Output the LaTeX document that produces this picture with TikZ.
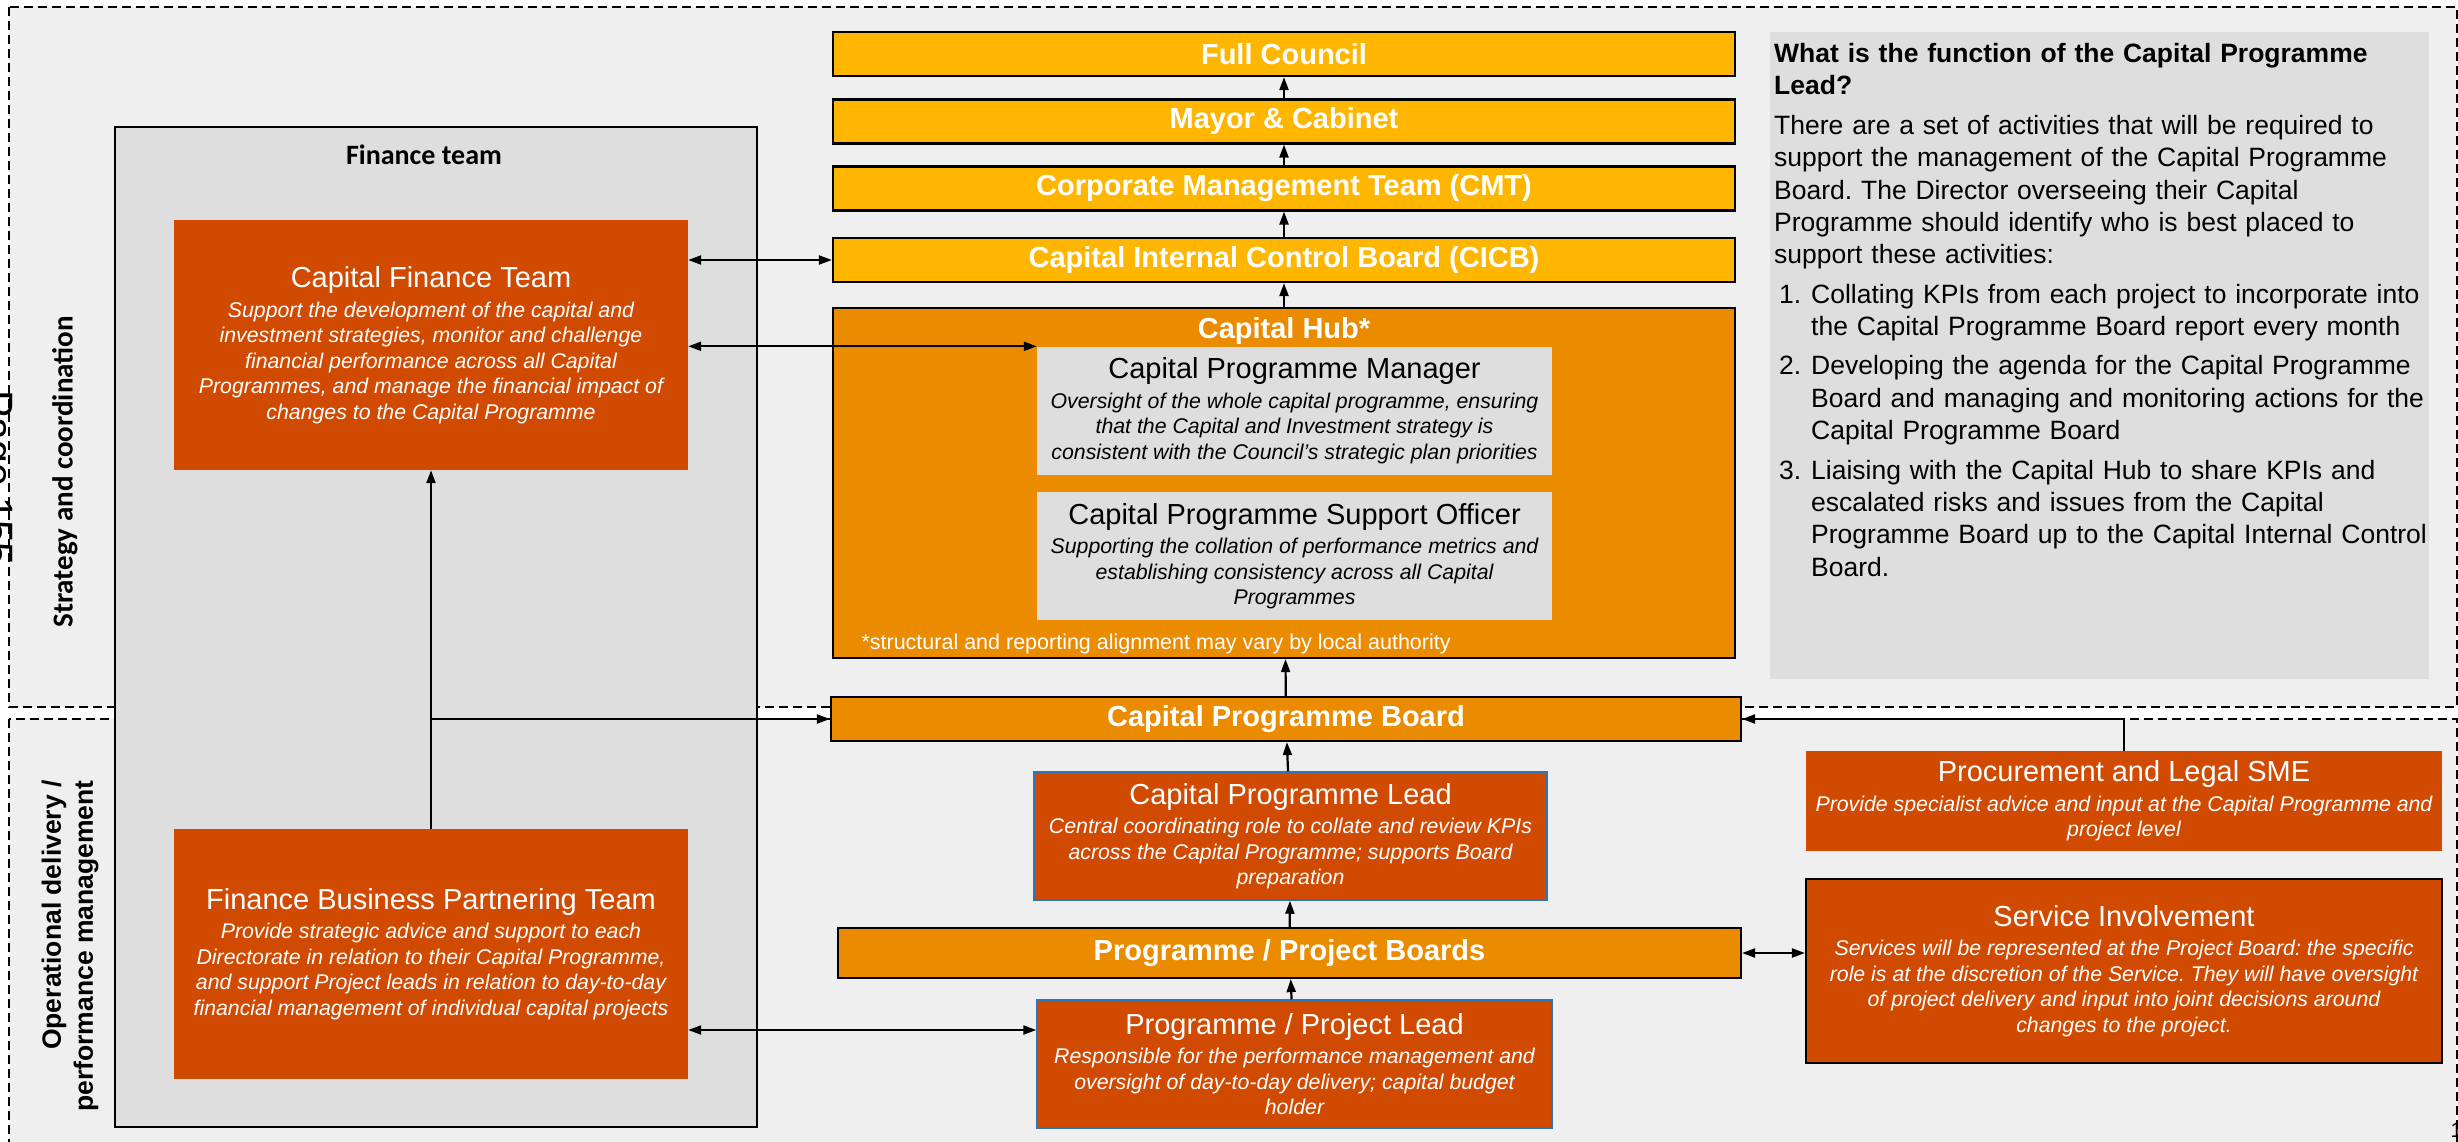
\documentclass[tikz,border=0pt]{standalone}
\usepackage{fontspec}
\setmainfont{Liberation Sans}
\newfontfamily\calfont{Carlito}
\usetikzlibrary{arrows.meta}
\frenchspacing

\definecolor{govyellow}{HTML}{FFB600}
\definecolor{huborange}{HTML}{EB8C00}
\definecolor{teamorange}{HTML}{D04A02}
\definecolor{panelgrey}{HTML}{DEDEDE}
\definecolor{zonegrey}{HTML}{EFEFEF}
\definecolor{leadblue}{HTML}{2E75B6}

\newcommand{\descfont}{\fontsize{21.3}{25.5}\selectfont\itshape}
\newcommand{\roletitle}[1]{{\fontsize{29}{32}\selectfont\upshape #1}\\[4pt]}

\begin{document}
\begin{tikzpicture}[x=1pt, y=-1pt,
  zone/.style={draw=black, line width=2.2pt, dash pattern=on 9pt off 5pt, fill=zonegrey},
  govbox/.style={draw=black, line width=2.2pt, fill=govyellow, text=white, minimum width=902pt,
    minimum height=44pt, inner sep=0pt, font=\fontsize{29}{33}\selectfont\bfseries},
  teambox/.style={fill=teamorange, text=white, align=center, inner sep=0pt, font=\descfont},
  leadbox/.style={teambox, draw=leadblue, line width=1.5pt},
  hubrole/.style={fill=panelgrey, text=black, align=center, inner sep=0pt, font=\descfont,
    minimum width=515pt, minimum height=128pt},
  arr/.style={line width=2.2pt, -{Triangle[length=13pt,width=9pt]}},
  dbl/.style={line width=2.2pt, {Triangle[length=13pt,width=9pt]}-{Triangle[length=13pt,width=9pt]}},
]
\useasboundingbox (0,0) rectangle (2458,1142);
% strategy / operational zones
\draw[zone] (9,7) rectangle (2457,707);
\draw[zone] (9,719) rectangle (2457,1170);
\node[rotate=-90, anchor=base, font=\fontsize{41}{41}\selectfont] (pagenum) at (-15,478) {Page 155};
\node[rotate=90, font=\calfont\fontsize{29}{32}\selectfont\bfseries] (stratlab) at (65,472) {Strategy and coordination};
\node[rotate=90, align=right, font=\fontsize{26.5}{32}\selectfont\bfseries] (oplab) at (70,946)
  {Operational delivery /\\performance management};

% finance team
\node[draw=black, line width=2.2pt, fill=panelgrey, minimum width=642pt, minimum height=1000pt] (fin) at (436,627) {};
\node[anchor=base, font=\calfont\fontsize{28}{30}\selectfont\bfseries] (fintitle) at (424,165) {Finance team};
\node[teambox, minimum width=514pt, minimum height=250pt] (cft) at (431,345)
  {\roletitle{Capital Finance Team}Support the development of the capital and\\investment strategies, monitor and challenge\\financial performance across all Capital\\Programmes, and manage the financial impact of\\changes to the Capital Programme};
\node[teambox, minimum width=514pt, minimum height=250pt] (fbpt) at (431,954)
  {\roletitle{Finance Business Partnering Team}Provide strategic advice and support to each\\Directorate in relation to their Capital Programme,\\and support Project leads in relation to day-to-day\\financial management of individual capital projects};

% governance chain
\foreach \nm/\y/\txt in {fc/54/{Full Council}, mc/121.5/{Mayor \& Cabinet},
    cmt/188.5/{Corporate Management Team (CMT)}, cicb/260/{Capital Internal Control Board (CICB)}}
  \node[govbox] (\nm) at (1284,\y) {\txt};

% capital hub
\node[govbox, fill=huborange, minimum height=350pt] (hub) at (1284,483) {};
\node[anchor=base, text=white, font=\fontsize{29}{33}\selectfont\bfseries] (hubtitle) at (1284,338) {Capital Hub*};
\node[hubrole] (cpm) at (1294.5,410.5)
  {\roletitle{Capital Programme Manager}Oversight of the whole capital programme, ensuring\\that the Capital and Investment strategy is\\consistent with the Council’s strategic plan priorities};
\node[hubrole] (cpso) at (1294.5,556)
  {\roletitle{Capital Programme Support Officer}Supporting the collation of performance metrics and\\establishing consistency across all Capital\\Programmes};
\node[anchor=base west, text=white, font=\fontsize{21.5}{24}\selectfont] (hubnote) at (858,649)
  {*structural and reporting alignment may vary by local authority};

% programme level
\node[govbox, fill=huborange, minimum width=910pt] (cpb) at (1286,719) {Capital Programme Board};
\node[leadbox, minimum width=513pt, minimum height=128pt] (cpl) at (1290.5,836)
  {\roletitle{Capital Programme Lead}Central coordinating role to collate and review KPIs\\across the Capital Programme; supports Board\\preparation};
\node[govbox, fill=huborange, minimum width=903pt, minimum height=50pt] (ppb) at (1289.5,953) {Programme / Project Boards};
\node[leadbox, minimum width=515pt, minimum height=128pt] (ppl) at (1294.5,1064)
  {\roletitle{Programme / Project Lead}Responsible for the performance management and\\oversight of day-to-day delivery; capital budget\\holder};

% function of the lead
\node[fill=panelgrey, minimum width=659pt, minimum height=647pt] (info) at (2099.5,355.5) {};
\node[anchor=north west, text width=700pt, align=left, inner sep=0pt, font=\fontsize{26.5}{32.4}\selectfont] (infotext) at (1774,43)
  {\parindent=0pt
   {\bfseries What is the function of the Capital Programme\newline Lead?\par}\vspace{7pt}
   There are a set of activities that will be required to\newline support the management of the Capital Programme\newline Board. The Director overseeing their Capital\newline Programme should identify who is best placed to\newline support these activities:\par\vspace{7pt}
   \hangindent=37pt\makebox[37pt][l]{\hspace{5pt}1.}Collating KPIs from each project to incorporate into\newline the Capital Programme Board report every month\par\vspace{7pt}
   \hangindent=37pt\makebox[37pt][l]{\hspace{5pt}2.}Developing the agenda for the Capital Programme\newline Board and managing and monitoring actions for the\newline Capital Programme Board\par\vspace{7pt}
   \hangindent=37pt\makebox[37pt][l]{\hspace{5pt}3.}Liaising with the Capital Hub to share KPIs and\newline escalated risks and issues from the Capital\newline Programme Board up to the Capital Internal Control\newline Board.\par};

% specialist input
\node[teambox, minimum width=636pt, minimum height=100pt] (proc) at (2124,801)
  {\roletitle{Procurement and Legal SME}Provide specialist advice and input at the Capital Programme and\\project level};
\node[teambox, draw=black, line width=2.2pt, minimum width=636pt, minimum height=184pt] (serv) at (2124,971)
  {\roletitle{Service Involvement}Services will be represented at the Project Board: the specific\\role is at the discretion of the Service. They will have oversight\\of project delivery and input into joint decisions around\\changes to the project.};
\node[anchor=base west, font=\fontsize{21}{21}\selectfont] (slidenum) at (2447,1137) {1};

% reporting lines
\foreach \a/\b in {mc/fc, cmt/mc, cicb/cmt, hub/cicb, cpb/hub, cpl/cpb, ppb/cpl, ppl/ppb}
  \draw[arr] (\a) -- (\b);
\draw[dbl] (cft.east |- cicb.west) -- (cicb.west);
\draw[dbl] (cft.east |- cpm.north west) -- (cpm.north west);
\draw[arr] (fbpt.north) -- (cft.south);
\draw[arr] (fbpt.north |- cpb.west) -- (cpb.west);
\coordinate (fbptlink) at ([yshift=-76pt]fbpt.east);
\draw[dbl] (fbptlink) -- (fbptlink -| ppl.west);
\draw[arr] (proc.north) |- (cpb.east);
\draw[dbl] (ppb.east) -- (ppb.east -| serv.west);
\end{tikzpicture}
\end{document}
